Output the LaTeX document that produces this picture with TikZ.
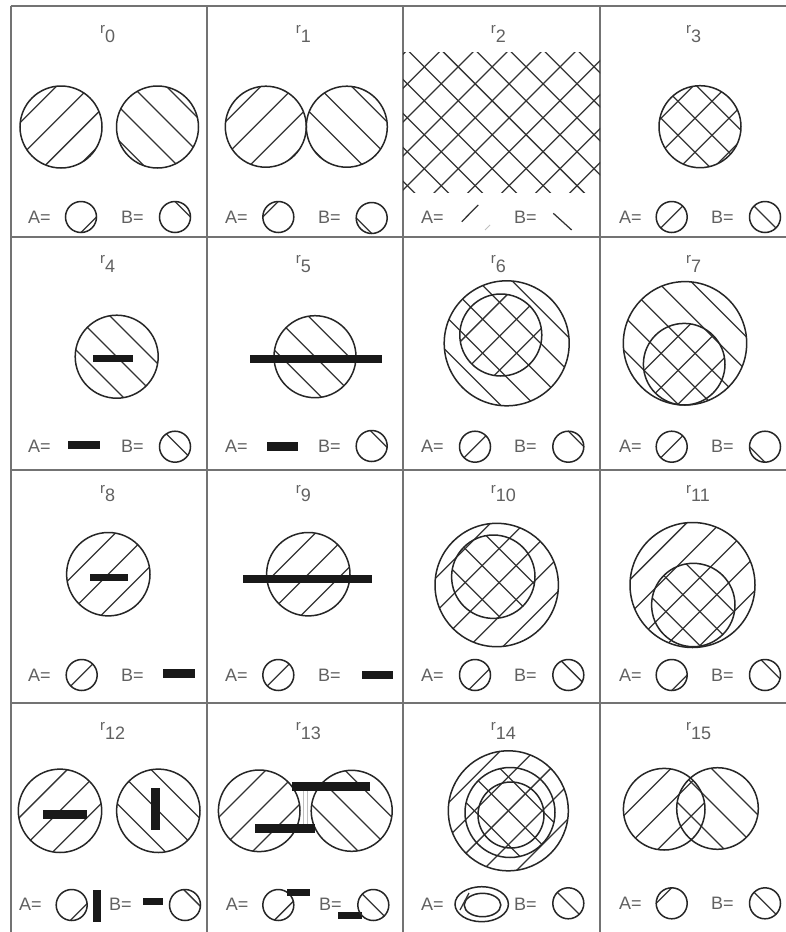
\documentclass[tikz,border=0pt]{standalone}
\usepackage{fontspec}
\setmainfont{Liberation Sans}
\def\hs{24}
\newcommand\hatchS[3]{\foreach \k in {-6,...,6}{\pgfmathsetmacro\hoff{(#3+\k*\hs)*0.7071}\draw[hatch] ({#1+\hoff-130},{#2+\hoff+130}) -- ({#1+\hoff+130},{#2+\hoff-130});}}
\newcommand\hatchB[3]{\foreach \k in {-6,...,6}{\pgfmathsetmacro\hoff{(#3+\k*\hs)*0.7071}\draw[hatch] ({#1+\hoff-130},{#2-\hoff-130}) -- ({#1+\hoff+130},{#2-\hoff+130});}}
\newcommand\diskS[4]{\begin{scope}\clip (#1,#2) circle (#3pt);\hatchS{#1}{#2}{#4}\end{scope}\draw[circ] (#1,#2) circle (#3pt);}
\newcommand\diskB[4]{\begin{scope}\clip (#1,#2) circle (#3pt);\hatchB{#1}{#2}{#4}\end{scope}\draw[circ] (#1,#2) circle (#3pt);}
\newcommand\legS[3]{\begin{scope}\clip (#1,#2) circle (15.5pt);\pgfmathsetmacro\hoff{#3*0.7071}\draw[hatch] ({#1+\hoff-20},{#2+\hoff+20}) -- ({#1+\hoff+20},{#2+\hoff-20});\end{scope}\draw[circ] (#1,#2) circle (15.5pt);}
\newcommand\legB[3]{\begin{scope}\clip (#1,#2) circle (15.5pt);\pgfmathsetmacro\hoff{#3*0.7071}\draw[hatch] ({#1+\hoff-20},{#2-\hoff-20}) -- ({#1+\hoff+20},{#2-\hoff+20});\end{scope}\draw[circ] (#1,#2) circle (15.5pt);}
\newcommand\barH[4]{\fill[black!90] (#1,{#3-#4/2}) rectangle (#2,{#3+#4/2});}
\newcommand\barV[4]{\fill[black!90] ({#1-#4/2},#2) rectangle ({#1+#4/2},#3);}
\tikzset{
  hatch/.style={line width=1.25pt, draw=black!80},
  circ/.style={line width=1.5pt, draw=black!85},
  gridline/.style={line width=2pt, draw=black!55},
  txt/.style={text=black!62, font=\fontsize{18}{21}\selectfont, inner sep=0pt},
}
\begin{document}
\begin{tikzpicture}[x=1pt,y=-1pt]
\useasboundingbox (0,0) rectangle (786,932);
\fill[white] (0,0) rectangle (786,932);
% grid
\foreach \yy in {5.5,237,470,703} {\draw[gridline] (10.5,\yy) -- (800,\yy);}
\foreach \xx in {10.5,207,403,600} {\draw[gridline] (\xx,5.5) -- (\xx,940);}
% labels
\node[txt,anchor=base west] (l0) at (100,33.3) {{\fontsize{15}{18}\selectfont r}\raisebox{-9pt}{0}};
\node[txt,anchor=base west] (l1) at (295.7,33.3) {{\fontsize{15}{18}\selectfont r}\raisebox{-9pt}{1}};
\node[txt,anchor=base west] (l2) at (490.7,33.3) {{\fontsize{15}{18}\selectfont r}\raisebox{-9pt}{2}};
\node[txt,anchor=base west] (l3) at (686,33.3) {{\fontsize{15}{18}\selectfont r}\raisebox{-9pt}{3}};
\node[txt,anchor=base west] (l4) at (100,263.3) {{\fontsize{15}{18}\selectfont r}\raisebox{-9pt}{4}};
\node[txt,anchor=base west] (l5) at (295.7,263.3) {{\fontsize{15}{18}\selectfont r}\raisebox{-9pt}{5}};
\node[txt,anchor=base west] (l6) at (490.7,263.3) {{\fontsize{15}{18}\selectfont r}\raisebox{-9pt}{6}};
\node[txt,anchor=base west] (l7) at (686,263.3) {{\fontsize{15}{18}\selectfont r}\raisebox{-9pt}{7}};
\node[txt,anchor=base west] (l8) at (100,493.3) {{\fontsize{15}{18}\selectfont r}\raisebox{-8pt}{8}};
\node[txt,anchor=base west] (l9) at (295.7,493.3) {{\fontsize{15}{18}\selectfont r}\raisebox{-8pt}{9}};
\node[txt,anchor=base west] (l10) at (490.7,493.3) {{\fontsize{15}{18}\selectfont r}\raisebox{-8pt}{10}};
\node[txt,anchor=base west] (l11) at (686,493.3) {{\fontsize{15}{18}\selectfont r}\raisebox{-8pt}{11}};
\node[txt,anchor=base west] (l12) at (100,730) {{\fontsize{15}{18}\selectfont r}\raisebox{-9pt}{12}};
\node[txt,anchor=base west] (l13) at (295.7,730) {{\fontsize{15}{18}\selectfont r}\raisebox{-9pt}{13}};
\node[txt,anchor=base west] (l14) at (490.7,730) {{\fontsize{15}{18}\selectfont r}\raisebox{-9pt}{14}};
\node[txt,anchor=base west] (l15) at (686,730) {{\fontsize{15}{18}\selectfont r}\raisebox{-9pt}{15}};
% ---------- row 0
\diskS{61}{127}{41}{-8}
\diskB{157.5}{127}{41}{11}
\diskS{265.8}{126.7}{40.5}{-8}
\diskB{346.8}{126.7}{40.5}{8}
\begin{scope}\clip (403,52) rectangle (600,192);
\hatchS{501.5}{122}{2.4}\hatchB{501.5}{122}{8.4}
\end{scope}
\begin{scope}\clip (700,126.7) circle (41pt);\hatchS{700}{126.7}{-9.5}\hatchB{700}{126.7}{2.4}\end{scope}
\draw[circ] (700,126.7) circle (41pt);
% legends row 0
\node[txt,anchor=west] (a0) at (28,217) {A=};  \legS{81}{217}{11}
\node[txt,anchor=west] (b0) at (121,217) {B=}; \legB{175}{217}{11}
\node[txt,anchor=west] (a1) at (225,217) {A=}; \legS{278.3}{217}{-11}
\node[txt,anchor=west] (b1) at (318,217) {B=}; \legB{371.7}{218}{-11}
\node[txt,anchor=west] (a2) at (421,217) {A=};
\draw[hatch] (461.7,221.7) -- (478.3,205);
\draw[black!25,line width=1pt] (485,230) -- (490,225);
\node[txt,anchor=west] (b2) at (514,217) {B=};
\draw[hatch] (553.3,213.3) -- (571.7,230);
\node[txt,anchor=west] (a3) at (619,217) {A=}; \legS{671.7}{217}{0}
\node[txt,anchor=west] (b3) at (711,217) {B=}; \legB{765}{217}{0}
% ---------- row 1
\diskB{116.7}{356.7}{41.5}{0}
\barH{93.3}{133.3}{358.3}{7.5}
\diskB{315}{356.7}{41}{0}
\barH{250}{381.7}{359.3}{8}
\diskB{506.7}{343.3}{62.5}{0}
\diskS{500.8}{335}{41}{0}
\diskB{685}{343.3}{61.7}{0}
\diskS{684.2}{364.2}{40.8}{0}
\node[txt,anchor=west] (a4) at (28,446) {A=}; \barH{68.3}{100}{445}{8.5}
\node[txt,anchor=west] (b4) at (121,446) {B=}; \legB{175}{446.7}{3}
\node[txt,anchor=west] (a5) at (225,446) {A=}; \barH{266.7}{298.3}{446.5}{8.5}
\node[txt,anchor=west] (b5) at (318,446) {B=}; \legB{371.7}{446}{10}
\node[txt,anchor=west] (a6) at (421,446) {A=}; \legS{475}{446.7}{0}
\node[txt,anchor=west] (b6) at (514,446) {B=}; \legB{568.3}{446.7}{11}
\node[txt,anchor=west] (a7) at (619,446) {A=}; \legS{671.7}{446.7}{0}
\node[txt,anchor=west] (b7) at (711,446) {B=}; \legB{765}{446.7}{-11}
% ---------- row 2
\diskS{108.3}{574.2}{41.7}{0}
\barH{90}{128.3}{577.3}{7}
\diskS{308.3}{574.2}{41.7}{0}
\barH{243.3}{371.7}{579}{8}
\diskS{496.7}{585}{61.7}{0}
\diskB{493.3}{576.7}{41.7}{0}
\diskS{692.5}{585}{62.5}{0}
\diskB{693.3}{605}{41.7}{0}
\node[txt,anchor=west] (a8) at (28,675) {A=}; \legS{81.7}{675}{0}
\node[txt,anchor=west] (b8) at (121,675) {B=}; \barH{163.3}{195}{673.5}{8.5}
\node[txt,anchor=west] (a9) at (225,675) {A=}; \legS{278.3}{675}{0}
\node[txt,anchor=west] (b9) at (318,675) {B=}; \barH{361.7}{393.3}{675}{8.5}
\node[txt,anchor=west] (a10) at (421,675) {A=}; \legS{475}{675}{6}
\node[txt,anchor=west] (b10) at (514,675) {B=}; \legB{568.3}{675}{5}
\node[txt,anchor=west] (a11) at (619,675) {A=}; \legS{671.7}{675}{11}
\node[txt,anchor=west] (b11) at (711,675) {B=}; \legB{765}{675}{8}
% ---------- row 3
\diskS{60}{810.8}{41.7}{0}
\diskB{158.3}{810.8}{41.7}{0}
\barH{43.3}{86.7}{814}{9}
\barV{155}{788.3}{830}{9}
\draw[black!25,line width=1pt] (303.5,790) -- (303.5,825) (307.5,790) -- (307.5,825);
\diskS{259.2}{810.8}{40.8}{0}
\diskB{351.7}{810.8}{40.5}{0}
\barH{291.7}{370}{786.7}{9}
\barH{255}{315}{828.3}{9}
\diskS{508.3}{810.8}{60}{0}
\diskB{510}{812.5}{45}{0}
\draw[circ] (511,815) circle (33pt);
\begin{scope}\clip (664.2,809.2) circle (40.8pt);\hatchS{664.2}{809.2}{0}\end{scope}
\begin{scope}\clip (717.5,808.5) circle (40.8pt);\hatchB{717.5}{808.5}{0}\end{scope}
\draw[circ] (664.2,809.2) circle (40.8pt);
\draw[circ] (717.5,808.5) circle (40.8pt);
\node[txt,anchor=west] (a12) at (19,904) {A=}; \legS{71.7}{905}{10}
\barV{96.7}{890}{921.7}{8}
\node[txt,anchor=west] (b12) at (109,904) {B=}; \barH{143.3}{163.3}{901.7}{7}
\legB{185}{905}{10}
\node[txt,anchor=west] (a13) at (225.7,904) {A=}; \legS{278.3}{905}{8}
\barH{286.7}{310}{892.3}{7}
\node[txt,anchor=west] (b13) at (319,904) {B=}; \barH{338.3}{361.7}{915}{7}
\legB{373.3}{905}{0}
\node[txt,anchor=west] (a14) at (421,904) {A=};
\draw[circ] (481.7,904.2) ellipse [x radius=26.7pt, y radius=17.5pt];
\draw[circ] (482.5,905) ellipse [x radius=18.3pt, y radius=11.7pt];
\draw[hatch] (460,910) -- (469,893);
\node[txt,anchor=west] (b14) at (514,904) {B=}; \legB{568.3}{903.3}{0}
\node[txt,anchor=west] (a15) at (619,903) {A=}; \legS{671.7}{903.3}{-11}
\node[txt,anchor=west] (b15) at (711,903) {B=}; \legB{765}{903.3}{0}
\end{tikzpicture}
\end{document}
